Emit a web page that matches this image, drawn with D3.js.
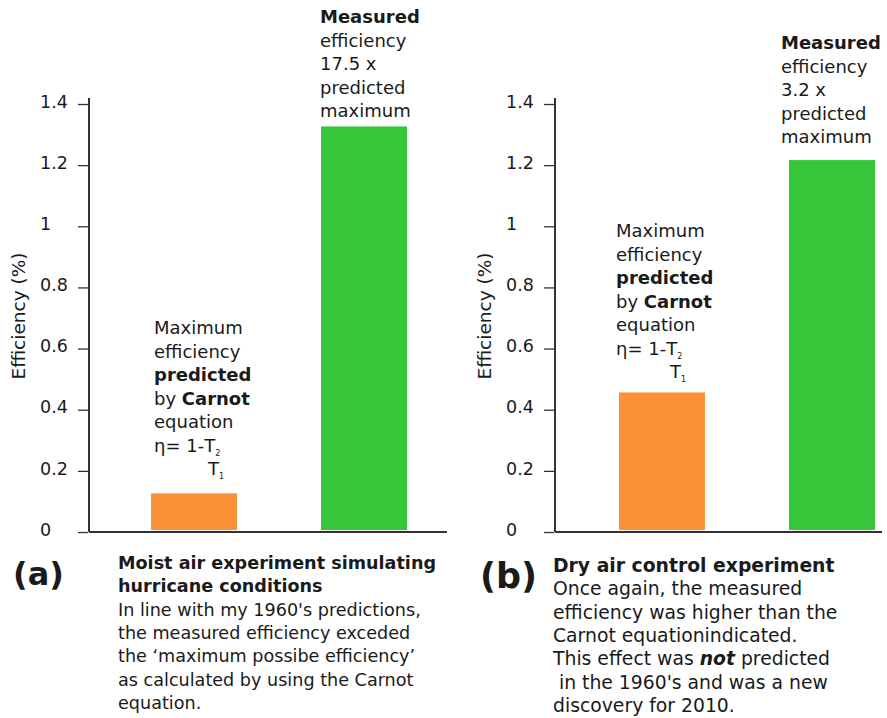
<!DOCTYPE html>
<html><head><meta charset="utf-8">
<script src="https://cdn.jsdelivr.net/npm/d3@7"></script>
<style>body{margin:0;background:#fff;} text{font-family:"DejaVu Sans",Verdana,sans-serif;fill:#1a1a1a;}</style>
</head><body>
<svg id="c" width="887" height="718"></svg>
<script>
const categories = ["Predicted (Carnot)", "Measured"];
const moistValues = [0.12, 1.32];
const dryValues = [0.45, 1.21];
const yTicks = [0, 0.2, 0.4, 0.6, 0.8, 1, 1.2, 1.4];
const barColors = ["#fb923a", "#36c63a"];

const svg = d3.select("#c");
const y = d3.scaleLinear().domain([0, 1.4]).range([530, 102]);

function panel(ax, values, xEnd, barXs) {
  const g = svg.append("g");
  const axis = d3.axisLeft(y).tickValues(yTicks).tickSize(11).tickSizeOuter(0)
    .tickFormat(d => d3.format("")(+d.toFixed(1)));
  const ag = g.append("g").attr("transform", `translate(${ax},0)`).call(axis);
  ag.select(".domain").attr("d", `M0,${y(1.4)-4}V${y(0)+2}`).attr("stroke", "#333").attr("stroke-width", 2);
  ag.selectAll(".tick line").attr("stroke", "#333").attr("stroke-width", 1.3).attr("x1", -1).attr("transform", "translate(0,2)");
  ag.selectAll(".tick text").attr("text-anchor", "start").attr("x", -49).attr("dy", "0.3em")
    .style("font-size", "17.5px").style("font-family", "DejaVu Sans, Verdana, sans-serif").attr("fill", "#1a1a1a");
  g.append("line").attr("x1", ax).attr("x2", xEnd).attr("y1", y(0)+2).attr("y2", y(0)+2).attr("stroke", "#333").attr("stroke-width", 2);
  const x = d3.scaleBand().domain(categories).range(barXs).paddingInner(1.03).paddingOuter(0);
  const bw = 86;
  g.selectAll("rect").data(values).join("rect")
    .attr("x", (d, i) => i === 0 ? barXs[0] : barXs[1] - bw)
    .attr("width", bw)
    .attr("y", d => y(d)).attr("height", d => y(0) - y(d))
    .attr("fill", (d, i) => barColors[i]);
  g.append("text").attr("transform", `translate(${ax-70},${316}) rotate(-90)`)
    .attr("text-anchor", "middle").attr("dy", "0.35em").style("font-size", "18.5px").text("Efficiency (%)");
  return g;
}

panel(89, moistValues, 447, [151, 407]);
panel(555, dryValues, 882, [619, 875]);

function block(x0, y0, lines, lh, size) {
  const t = svg.append("text").attr("x", x0).attr("y", y0).style("font-size", size + "px");
  lines.forEach((ln, i) => {
    const parts = Array.isArray(ln) ? ln : [[ln, "normal"]];
    parts.forEach((p, j) => {
      const ts = t.append("tspan").text(p[0]);
      if (j === 0) ts.attr("x", x0).attr("dy", i === 0 ? 0 : lh);
      if (p[1] === "bold") ts.style("font-weight", "bold");
      if (p[1] === "bi") ts.style("font-weight", "bold").style("font-style", "italic");
    });
  });
  return t;
}

function carnot(x0, y0) {
  block(x0, y0, [
    "Maximum", "efficiency", [["predicted", "bold"]], [["by ", "normal"], ["Carnot", "bold"]], "equation"
  ], 23.5, 18);
  const yy = y0 + 23.5 * 5;
  const t = svg.append("text").attr("x", x0).attr("y", yy).style("font-size", "18px");
  t.append("tspan").text("η=\u00a01-T");
  t.append("tspan").text("2").style("font-size", "8px").attr("dy", 4);
  svg.append("text").attr("x", x0 + 54).attr("y", yy + 23).style("font-size", "18px").text("T")
    .append("tspan").text("1").style("font-size", "8px").attr("dy", 4);
}

function measured(x0, y0, ratio) {
  block(x0, y0, [[["Measured", "bold"]], "efficiency", ratio + " x", "predicted", "maximum"], 23.5, 18);
}

carnot(154, 334);
measured(320, 23, "17.5");
carnot(616, 237);
measured(781, 49, "3.2");

// captions
svg.append("text").attr("x", 13).attr("y", 585).style("font-size", "32px").style("font-weight", "bold").text("(a)");
block(118, 569, [[["Moist air experiment simulating", "bold"]], [["hurricane conditions", "bold"]],
  "In line with my 1960's predictions,", "the measured efficiency exceded",
  "the \u2018maximum possibe efficiency\u2019", "as calculated by using the Carnot", "equation."], 23.3, 17.6);

svg.append("text").attr("x", 480).attr("y", 588).style("font-size", "35px").style("font-weight", "bold").text("(b)");
block(553, 572, [[["Dry air control experiment", "bold"]], "Once again, the measured",
  "efficiency was higher than the", "Carnot equationindicated.",
  [["This effect was ", "normal"], ["not", "bi"], [" predicted", "normal"]],
  "\u00a0in the 1960's and was a new", "discovery for 2010."], 23.3, 18.8);
</script>
</body></html>
